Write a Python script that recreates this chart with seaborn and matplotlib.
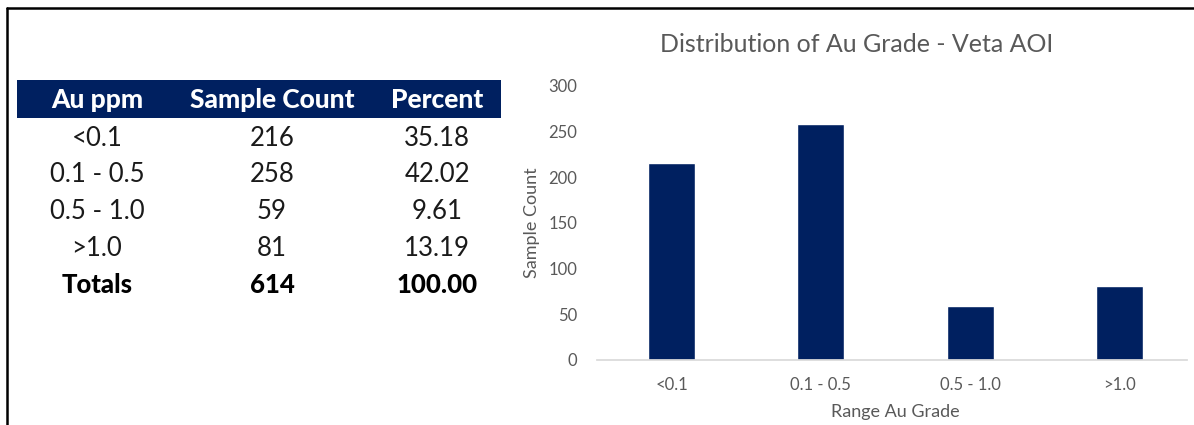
import matplotlib
matplotlib.use("Agg")
import matplotlib.pyplot as plt
import seaborn as sns
import pandas as pd
from matplotlib.lines import Line2D
from matplotlib.patches import Rectangle

# ---- data ----
categories = ["<0.1", "0.1 - 0.5", "0.5 - 1.0", ">1.0"]
counts = [216, 258, 59, 81]
percents = ["35.18", "42.02", "9.61", "13.19"]
total_count = "614"
total_percent = "100.00"
headers = ["Au ppm", "Sample Count", "Percent"]
yticks = [0, 50, 100, 150, 200, 250, 300]

navy = "#002060"
gray = "#595959"

sns.set_theme(style="white")
plt.rcParams["font.family"] = ["Lato", "DejaVu Sans"]

W, H = 1194, 425
fig = plt.figure(figsize=(W / 100, H / 100), dpi=100)

# frame lines (left and top)
fig.add_artist(Line2D([7 / W, 7 / W], [0, 1 - 8 / H], color="black", lw=1.8, transform=fig.transFigure))
fig.add_artist(Line2D([7 / W, 1], [1 - 8 / H, 1 - 8 / H], color="black", lw=1.8, transform=fig.transFigure))

# ---- table ----
fig.add_artist(Rectangle((17 / W, 1 - 118 / H), (501 - 17) / W, (118 - 80) / H,
                         facecolor=navy, edgecolor="none", transform=fig.transFigure))
col_x = [97, 272, 437]
for x, h in zip(col_x, headers):
    fig.text(x / W, 1 - 100 / H, h, ha="center", va="center", color="white",
             fontsize=19, fontweight="black")
row_y = [138, 174, 212, 248]
fs = 18.5
for y, c, n, p in zip(row_y, categories, counts, percents):
    fig.text(col_x[0] / W, 1 - y / H, c, ha="center", va="center", color="#1a1a1a", fontsize=fs)
    fig.text(col_x[1] / W, 1 - y / H, str(n), ha="center", va="center", color="#1a1a1a", fontsize=fs)
    fig.text(col_x[2] / W, 1 - y / H, p, ha="center", va="center", color="#1a1a1a", fontsize=fs)
fig.text(col_x[0] / W, 1 - 285 / H, "Totals", ha="center", va="center", color="black", fontsize=fs, fontweight="black")
fig.text(col_x[1] / W, 1 - 285 / H, total_count, ha="center", va="center", color="black", fontsize=fs, fontweight="black")
fig.text(col_x[2] / W, 1 - 285 / H, total_percent, ha="center", va="center", color="black", fontsize=fs, fontweight="black")

# ---- chart ----
ax = fig.add_axes([597 / W, 1 - 360 / H, (1194 - 597) / W, (360 - 86) / H])
df = pd.DataFrame({"cat": categories, "count": counts})
sns.barplot(data=df, x="cat", y="count", color=navy, saturation=1, width=0.315, ax=ax)
ax.set_xlim(-0.5, 3.5)
ax.set_ylim(0, 300)
ax.set_yticks(yticks)
ax.tick_params(axis="both", length=0, labelsize=12, labelcolor=gray)
ax.tick_params(axis="x", pad=12)
ax.tick_params(axis="y", pad=14)
for s in ["top", "right", "left"]:
    ax.spines[s].set_visible(False)
ax.spines["bottom"].set_color("#d9d9d9")
ax.spines["bottom"].set_bounds(-0.5, 3.45)
ax.set_xlabel("Range Au Grade", fontsize=13, color=gray, labelpad=8)
ax.set_ylabel("Sample Count", fontsize=13, color=gray, labelpad=6)
ax.grid(False)
ax.set_facecolor("none")

fig.text(857 / W, 1 - 45 / H, "Distribution of Au Grade - Veta AOI", ha="center", va="center",
         fontsize=18, color=gray)

fig.savefig("out.png", dpi=100, facecolor="white")
